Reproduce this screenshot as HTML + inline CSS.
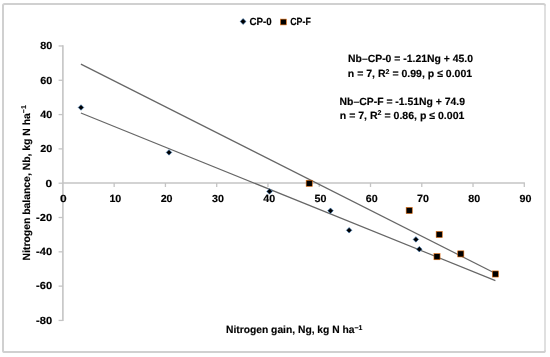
<!DOCTYPE html>
<html><head><meta charset="utf-8"><style>
html,body{margin:0;padding:0;background:#fff;width:550px;height:357px;overflow:hidden}
svg{display:block;will-change:transform}
</style></head><body>
<svg width="550" height="357" viewBox="0 0 550 357"><rect x="3" y="4" width="542" height="348" rx="1.6" fill="none" stroke="#d0d0d0" stroke-width="2"/><rect x="544" y="5.5" width="2" height="345" fill="#e0e0e0"/><line x1="62.9" y1="45.36" x2="62.9" y2="321.04" stroke="#c4c4c4" stroke-width="1.6"/><line x1="58.60" y1="320.44" x2="62.9" y2="320.44" stroke="#c4c4c4" stroke-width="1.3"/><line x1="58.60" y1="286.13" x2="62.9" y2="286.13" stroke="#c4c4c4" stroke-width="1.3"/><line x1="58.60" y1="251.82" x2="62.9" y2="251.82" stroke="#c4c4c4" stroke-width="1.3"/><line x1="58.60" y1="217.51" x2="62.9" y2="217.51" stroke="#c4c4c4" stroke-width="1.3"/><line x1="58.60" y1="183.20" x2="62.9" y2="183.20" stroke="#c4c4c4" stroke-width="1.3"/><line x1="58.60" y1="148.89" x2="62.9" y2="148.89" stroke="#c4c4c4" stroke-width="1.3"/><line x1="58.60" y1="114.58" x2="62.9" y2="114.58" stroke="#c4c4c4" stroke-width="1.3"/><line x1="58.60" y1="80.27" x2="62.9" y2="80.27" stroke="#c4c4c4" stroke-width="1.3"/><line x1="58.60" y1="45.96" x2="62.9" y2="45.96" stroke="#c4c4c4" stroke-width="1.3"/><line x1="62.9" y1="183.0" x2="524.90" y2="183.0" stroke="#c4c4c4" stroke-width="1.7"/><line x1="114.17" y1="183.0" x2="114.17" y2="187.0" stroke="#c4c4c4" stroke-width="1.3"/><line x1="165.43" y1="183.0" x2="165.43" y2="187.0" stroke="#c4c4c4" stroke-width="1.3"/><line x1="216.70" y1="183.0" x2="216.70" y2="187.0" stroke="#c4c4c4" stroke-width="1.3"/><line x1="267.97" y1="183.0" x2="267.97" y2="187.0" stroke="#c4c4c4" stroke-width="1.3"/><line x1="319.23" y1="183.0" x2="319.23" y2="187.0" stroke="#c4c4c4" stroke-width="1.3"/><line x1="370.50" y1="183.0" x2="370.50" y2="187.0" stroke="#c4c4c4" stroke-width="1.3"/><line x1="421.77" y1="183.0" x2="421.77" y2="187.0" stroke="#c4c4c4" stroke-width="1.3"/><line x1="473.03" y1="183.0" x2="473.03" y2="187.0" stroke="#c4c4c4" stroke-width="1.3"/><line x1="524.30" y1="183.0" x2="524.30" y2="187.0" stroke="#c4c4c4" stroke-width="1.3"/><line x1="80.9" y1="64.1" x2="495.6" y2="273.5" stroke="#666666" stroke-width="1.2"/><line x1="80.9" y1="113.0" x2="495.4" y2="280.6" stroke="#666666" stroke-width="1.2"/><path d="M81.0 104.75L83.75 107.5L81.0 110.25L78.25 107.5Z" fill="#000" stroke="#2e6fb0" stroke-width="0.6"/><path d="M169.0 149.65L171.75 152.4L169.0 155.15L166.25 152.4Z" fill="#000" stroke="#2e6fb0" stroke-width="0.6"/><path d="M269.5 188.65L272.25 191.4L269.5 194.15L266.75 191.4Z" fill="#000" stroke="#2e6fb0" stroke-width="0.6"/><path d="M330.5 207.95L333.25 210.7L330.5 213.45L327.75 210.7Z" fill="#000" stroke="#2e6fb0" stroke-width="0.6"/><path d="M349.1 227.55L351.85 230.3L349.1 233.05L346.35 230.3Z" fill="#000" stroke="#2e6fb0" stroke-width="0.6"/><path d="M415.9 236.65L418.65 239.4L415.9 242.15L413.15 239.4Z" fill="#000" stroke="#2e6fb0" stroke-width="0.6"/><path d="M419.3 246.45L422.05 249.2L419.3 251.95L416.55 249.2Z" fill="#000" stroke="#2e6fb0" stroke-width="0.6"/><rect x="306.15" y="180.25" width="6.1" height="6.1" fill="#000" stroke="#e46c0a" stroke-width="0.6"/><rect x="406.15" y="207.45" width="6.1" height="6.1" fill="#000" stroke="#e46c0a" stroke-width="0.6"/><rect x="433.95" y="253.65" width="6.1" height="6.1" fill="#000" stroke="#e46c0a" stroke-width="0.6"/><rect x="436.15" y="231.45" width="6.1" height="6.1" fill="#000" stroke="#e46c0a" stroke-width="0.6"/><rect x="457.75" y="250.85" width="6.1" height="6.1" fill="#000" stroke="#e46c0a" stroke-width="0.6"/><rect x="492.35" y="270.95" width="6.1" height="6.1" fill="#000" stroke="#e46c0a" stroke-width="0.6"/><path d="M243.1 18.6L246.0 21.5L243.1 24.4L240.2 21.5Z" fill="#000" stroke="#2e6fb0" stroke-width="0.6"/><rect x="280.50" y="19.10" width="5.8" height="5.8" fill="#000" stroke="#e46c0a" stroke-width="0.6"/><g font-family='"Liberation Sans", sans-serif' font-weight="bold" font-size="10.4" fill="#000" stroke="#000" stroke-width="0.15" text-rendering="geometricPrecision"><text id="y-80" text-anchor="end" x="52.20" y="323.74" textLength="16.08" lengthAdjust="spacingAndGlyphs">-80</text><text id="y-60" text-anchor="end" x="52.20" y="289.43" textLength="16.08" lengthAdjust="spacingAndGlyphs">-60</text><text id="y-40" text-anchor="end" x="52.20" y="255.12" textLength="16.08" lengthAdjust="spacingAndGlyphs">-40</text><text id="y-20" text-anchor="end" x="52.20" y="220.81" textLength="16.08" lengthAdjust="spacingAndGlyphs">-20</text><text id="y0" text-anchor="end" x="52.20" y="186.50" textLength="6.65" lengthAdjust="spacingAndGlyphs">0</text><text id="y20" text-anchor="end" x="52.20" y="152.19" textLength="12.03" lengthAdjust="spacingAndGlyphs">20</text><text id="y40" text-anchor="end" x="52.20" y="117.88" textLength="12.03" lengthAdjust="spacingAndGlyphs">40</text><text id="y60" text-anchor="end" x="52.20" y="83.57" textLength="12.03" lengthAdjust="spacingAndGlyphs">60</text><text id="y80" text-anchor="end" x="52.20" y="49.26" textLength="12.03" lengthAdjust="spacingAndGlyphs">80</text><text id="x0" text-anchor="middle" x="63.30" y="202.00" textLength="6.65" lengthAdjust="spacingAndGlyphs">0</text><text id="x10" text-anchor="middle" x="115.37" y="202.00" textLength="11.91" lengthAdjust="spacingAndGlyphs">10</text><text id="x20" text-anchor="middle" x="166.63" y="202.00" textLength="11.91" lengthAdjust="spacingAndGlyphs">20</text><text id="x30" text-anchor="middle" x="217.90" y="202.00" textLength="11.91" lengthAdjust="spacingAndGlyphs">30</text><text id="x40" text-anchor="middle" x="269.17" y="202.00" textLength="11.91" lengthAdjust="spacingAndGlyphs">40</text><text id="x50" text-anchor="middle" x="320.43" y="202.00" textLength="11.91" lengthAdjust="spacingAndGlyphs">50</text><text id="x60" text-anchor="middle" x="371.70" y="202.00" textLength="11.91" lengthAdjust="spacingAndGlyphs">60</text><text id="x70" text-anchor="middle" x="422.97" y="202.00" textLength="11.91" lengthAdjust="spacingAndGlyphs">70</text><text id="x80" text-anchor="middle" x="474.23" y="202.00" textLength="11.91" lengthAdjust="spacingAndGlyphs">80</text><text id="x90" text-anchor="middle" x="525.50" y="202.00" textLength="11.91" lengthAdjust="spacingAndGlyphs">90</text><text id="leg0" x="249.50" y="24.80" textLength="22.30" lengthAdjust="spacingAndGlyphs">CP-0</text><text id="legF" x="290.20" y="24.80" textLength="20.60" lengthAdjust="spacingAndGlyphs">CP-F</text><text id="L1" x="348.00" y="62.20" textLength="125.00" lengthAdjust="spacingAndGlyphs">Nb–CP-0 = -1.21Ng + 45.0</text><text id="L2" x="347.80" y="76.90" textLength="124.40" lengthAdjust="spacingAndGlyphs">n = 7, R<tspan font-size="7" dy="-3.3">2</tspan><tspan dy="3.3"> = 0.99, p ≤ 0.001</tspan></text><text id="L3" x="339.60" y="104.70" textLength="125.40" lengthAdjust="spacingAndGlyphs">Nb–CP-F = -1.51Ng + 74.9</text><text id="L4" x="339.80" y="118.50" textLength="124.60" lengthAdjust="spacingAndGlyphs">n = 7, R<tspan font-size="7" dy="-3.3">2</tspan><tspan dy="3.3"> = 0.86, p ≤ 0.001</tspan></text><text id="XT" x="226.00" y="332.90" textLength="136.40" lengthAdjust="spacingAndGlyphs">Nitrogen gain, Ng, kg N ha<tspan font-size="7" dy="-3.3">−1</tspan></text><g transform="translate(29.50 260.40) rotate(-90)"><text id="YT" x="0" y="0" textLength="155.20" lengthAdjust="spacingAndGlyphs">Nitrogen balance, Nb, kg N ha<tspan font-size="7" dy="-3.3">−1</tspan></text></g></g></svg>
</body></html>
